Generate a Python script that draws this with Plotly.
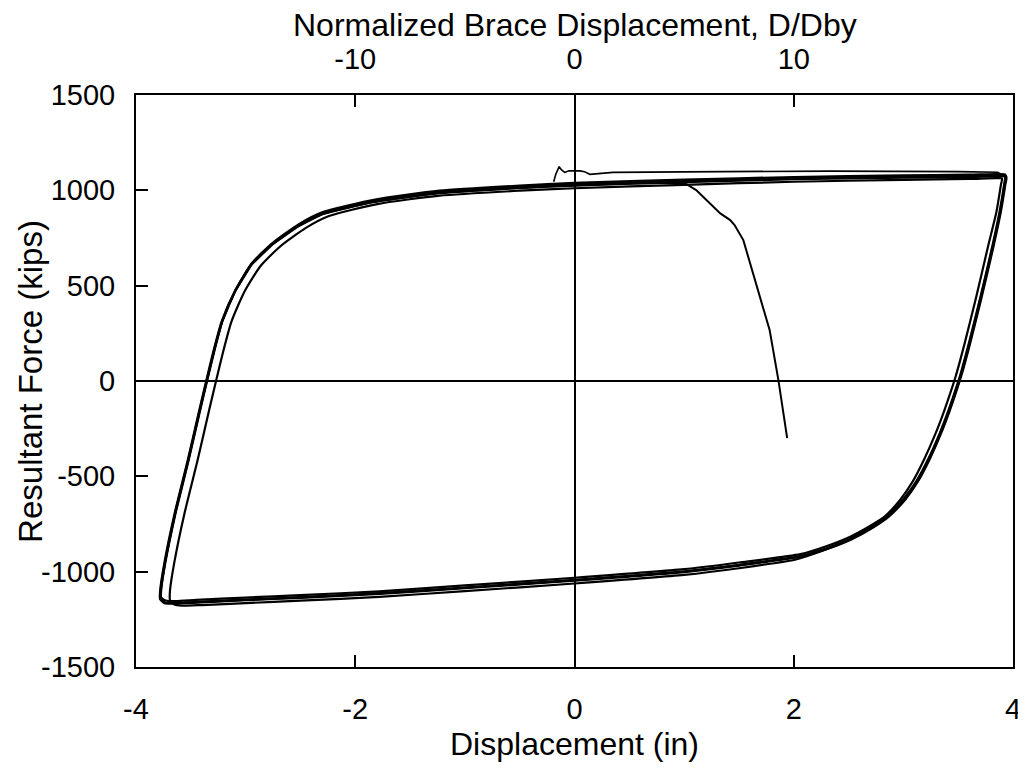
import plotly.graph_objects as go

# ---------------- data ----------------
# Displacement (in) and resultant force (kips) for each traced segment
init_disp = [-0.19, -0.17, -0.14, -0.12, -0.09, -0.05, 0.05, 0.09, 0.14, 0.35, 1.00, 2.33, 3.50, 3.86, 3.92]
init_force = [1045, 1085, 1124, 1108, 1094, 1103, 1102, 1098, 1084, 1094, 1097, 1101, 1098, 1095, 1075]

cycA_disp = [3.94, 3.93, 3.89, 3.82, 3.71, 3.61, 3.53, 3.48, 3.42, 3.34, 3.24, 3.13, 3.02, 2.87, 2.72,
             2.53, 2.31, 2.06, 1.50, 1.00, 0.00, -1.00, -1.78, -2.50, -3.00, -3.45, -3.65, -3.74, -3.78,
             -3.78, -3.74, -3.65, -3.53, -3.43, -3.36, -3.29, -3.22, -3.10, -2.95, -2.76, -2.52, -2.30,
             -1.84, -1.23, -0.50, 0.00, 1.00, 2.00, 3.00, 3.60, 3.88, 3.94]
cycA_force = [1070, 1030, 890, 700, 430, 200, 30, -60, -160, -280, -410, -530, -620, -710, -770,
              -830, -880, -922, -968, -1002, -1047, -1087, -1117, -1137, -1150, -1162, -1168, -1165, -1145,
              -1100, -950, -700, -420, -170, 0, 165, 310, 470, 610, 715, 812, 875,
              938, 985, 1012, 1025, 1043, 1058, 1066, 1070, 1074, 1070]

cycB_disp = [3.93, 3.92, 3.88, 3.81, 3.70, 3.60, 3.52, 3.47, 3.41, 3.33, 3.23, 3.12, 3.01, 2.86, 2.70,
             2.51, 2.29, 2.06, 1.50, 1.00, 0.00, -1.00, -1.78, -2.50, -3.00, -3.45, -3.64, -3.73, -3.77,
             -3.77, -3.73, -3.64, -3.52, -3.42, -3.35, -3.28, -3.21, -3.09, -2.94, -2.75, -2.51, -2.29,
             -1.83, -1.23, -0.50, 0.00, 1.00, 2.00, 3.00, 3.60, 3.87, 3.93]
cycB_force = [1082, 1035, 896, 704, 434, 204, 34, -56, -156, -276, -405, -523, -612, -700, -759,
              -818, -868, -908, -952, -987, -1032, -1072, -1103, -1123, -1136, -1148, -1154, -1151, -1135,
              -1096, -946, -696, -416, -166, 4, 169, 316, 478, 620, 726, 824, 887,
              950, 998, 1025, 1039, 1056, 1070, 1078, 1082, 1085, 1082]

cycC_disp = [3.90, 3.89, 3.85, 3.77, 3.66, 3.56, 3.48, 3.43, 3.37, 3.29, 3.19, 3.08, 2.97, 2.82, 2.66,
             2.47, 2.25, 2.02, 1.50, 1.00, 0.00, -1.00, -1.78, -2.50, -3.00, -3.40, -3.58, -3.65, -3.69,
             -3.69, -3.65, -3.56, -3.44, -3.34, -3.27, -3.20, -3.13, -3.01, -2.86, -2.68, -2.45, -2.24,
             -1.80, -1.23, -0.50, 0.00, 1.00, 2.00, 3.00, 3.60, 3.85, 3.90]
cycC_force = [1062, 1030, 890, 700, 430, 200, 30, -60, -160, -280, -410, -532, -624, -716, -780,
              -842, -893, -936, -982, -1017, -1062, -1102, -1132, -1152, -1165, -1175, -1178, -1172, -1150,
              -1100, -950, -700, -420, -170, 0, 165, 310, 470, 606, 708, 803, 865,
              928, 972, 998, 1011, 1029, 1045, 1055, 1060, 1064, 1062]

cycD_disp = [3.935, 3.925, 3.885, 3.815, 3.705, 3.605, 3.525, 3.475, 3.415, 3.335, 3.235, 3.125, 3.015, 2.865, 2.71,
             2.52, 2.30, 2.06, 1.50, 1.00, 0.00, -1.00, -1.78, -2.50, -3.00, -3.45, -3.645, -3.735, -3.775,
             -3.775, -3.735, -3.645, -3.525, -3.425, -3.355, -3.285, -3.215, -3.095, -2.945, -2.755, -2.515, -2.295,
             -1.835, -1.23, -0.50, 0.00, 1.00, 2.00, 3.00, 3.60, 3.875, 3.935]
cycD_force = [1076, 1031, 891, 701, 431, 201, 31, -59, -159, -279, -409, -528, -618, -707, -767,
              -827, -877, -918, -964, -998, -1043, -1083, -1113, -1133, -1146, -1158, -1165, -1162, -1143,
              -1099, -949, -699, -419, -169, 1, 166, 312, 472, 612, 718, 815, 880,
              944, 992, 1019, 1033, 1050, 1065, 1073, 1077, 1080, 1076]

final_disp = [3.935, 3.925, 3.885, 3.815, 3.705, 3.605, 3.525, 3.475, 3.415, 3.335, 3.235, 3.125, 3.015, 2.865, 2.71,
              2.52, 2.30, 2.06, 1.50, 1.00, 0.00, -1.00, -1.78, -2.50, -3.00, -3.45, -3.645, -3.735, -3.775,
              -3.775, -3.735, -3.645, -3.525, -3.425, -3.355, -3.285, -3.215, -3.095, -2.945, -2.755, -2.515, -2.295,
              -1.835, -1.23, -0.50, 0.00, 0.60, 1.00, 1.11, 1.22, 1.33, 1.42, 1.46, 1.54, 1.66, 1.78, 1.86, 1.94]
final_force = [1072, 1031, 892, 701, 431, 201, 31, -59, -159, -279, -409, -529, -619, -708, -768,
               -828, -878, -920, -966, -1000, -1045, -1085, -1115, -1135, -1148, -1160, -1166, -1163, -1144,
               -1100, -950, -700, -420, -170, 0, 166, 311, 471, 611, 716, 813, 877,
               940, 987, 1013, 1027, 1037, 1040, 1001, 940, 879, 844, 818, 739, 500, 267, 5, -300]

# axis ticks
x_ticks = [-4, -2, 0, 2, 4]
y_ticks = [-1500, -1000, -500, 0, 500, 1000, 1500]
top_ticks = [-10, 0, 10]
top_range = [-20, 20]   # D/Dby corresponding to -4..4 in

# ---------------- figure ----------------
FONT = "Liberation Sans, Arial, sans-serif"
fig = go.Figure()

segments = [
    (init_disp, init_force, 1.6, "linear"),
    (cycA_disp, cycA_force, 2.2, "spline"),
    (cycB_disp, cycB_force, 2.2, "spline"),
    (cycC_disp, cycC_force, 2.2, "spline"),
    (cycD_disp, cycD_force, 2.2, "spline"),
    (final_disp, final_force, 2.0, "linear"),
]
for xs, ys, w, shp in segments:
    line = dict(color="black", width=w, shape=shp)
    if shp == "spline":
        line["smoothing"] = 0.6
    fig.add_trace(go.Scatter(x=xs, y=ys, mode="lines", line=line,
                             hoverinfo="skip", showlegend=False))

# invisible trace to anchor the top axis
fig.add_trace(go.Scatter(x=top_range, y=[0, 0], xaxis="x2", mode="lines",
                         line=dict(color="rgba(0,0,0,0)", width=0),
                         hoverinfo="skip", showlegend=False))

fig.update_layout(
    width=1018, height=755,
    margin=dict(l=128, r=13, t=87, b=96, autoexpand=False),
    paper_bgcolor="white", plot_bgcolor="white",
    font=dict(family=FONT, color="black", size=29),
    xaxis=dict(range=[-4, 4], tickvals=x_ticks, ticktext=[str(v) for v in x_ticks],
               ticks="inside", ticklen=12, tickwidth=2, tickcolor="black",
               showline=True, linecolor="black", linewidth=2,
               showgrid=False, zeroline=True, zerolinecolor="black", zerolinewidth=2,
               tickfont=dict(size=29, family=FONT), ticklabelstandoff=15),
    xaxis2=dict(range=top_range, overlaying="x", side="top", anchor="y",
                tickvals=top_ticks, ticktext=[str(v) for v in top_ticks],
                ticks="inside", ticklen=12, tickwidth=2, tickcolor="black",
                showline=True, linecolor="black", linewidth=2,
                showgrid=False, zeroline=False,
                tickfont=dict(size=29, family=FONT), ticklabelstandoff=12),
    yaxis=dict(range=[-1500, 1500], tickvals=y_ticks, ticktext=[str(v) for v in y_ticks],
               ticks="inside", ticklen=12, tickwidth=2, tickcolor="black",
               showline=True, linecolor="black", linewidth=2, mirror=True,
               showgrid=False, zeroline=True, zerolinecolor="black", zerolinewidth=2,
               tickfont=dict(size=29, family=FONT), ticklabelstandoff=13),
    annotations=[
        dict(text="Displacement (in)", xref="paper", yref="paper", x=0.5, y=-0.134,
             xanchor="center", yanchor="middle", showarrow=False,
             font=dict(size=32, family=FONT, color="black")),
        dict(text="Normalized Brace Displacement, D/Dby", xref="paper", yref="paper",
             x=0.5, y=1.123, xanchor="center", yanchor="middle", showarrow=False,
             font=dict(size=32, family=FONT, color="black")),
        dict(text="Resultant Force (kips)", xref="paper", yref="paper",
             x=-0.121, y=0.5, xanchor="center", yanchor="middle", textangle=-90,
             showarrow=False, font=dict(size=33, family=FONT, color="black")),
    ],
)

fig.write_html("out.html")
